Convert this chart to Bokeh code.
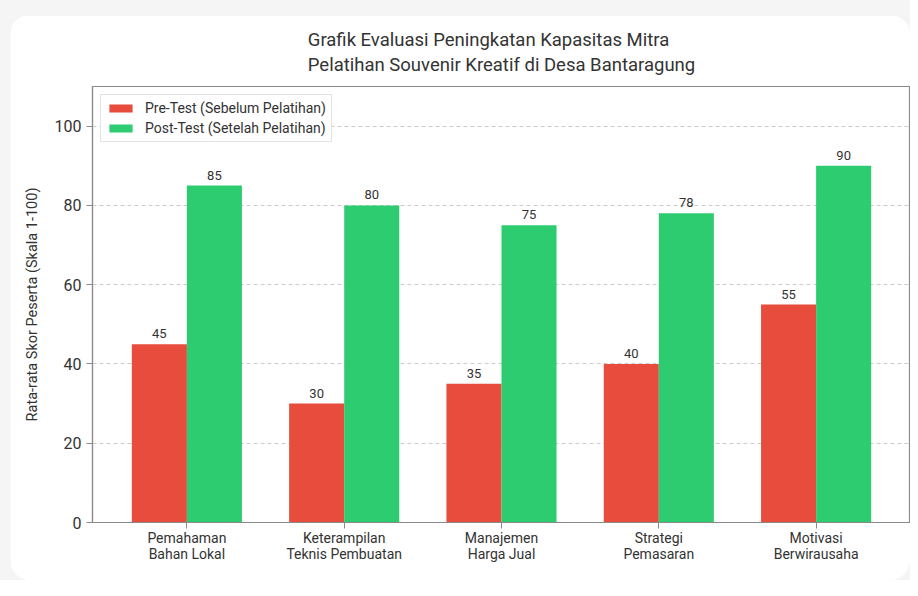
from bokeh.plotting import figure
from bokeh.models import ColumnDataSource, Range1d, FixedTicker, Legend, LegendItem
from bokeh.layouts import column
from bokeh.transform import dodge
from bokeh.core.properties import value
from bokeh.embed import file_html
from bokeh.resources import INLINE

categories = ["Pemahaman\nBahan Lokal", "Keterampilan\nTeknis Pembuatan", "Manajemen\nHarga Jual",
              "Strategi\nPemasaran", "Motivasi\nBerwirausaha"]
pre_test = [45, 30, 35, 40, 55]
post_test = [85, 80, 75, 78, 90]
y_ticks = [0, 20, 40, 60, 80, 100]
title_1 = "Grafik Evaluasi Peningkatan Kapasitas Mitra"
title_2 = "Pelatihan Souvenir Kreatif di Desa Bantaragung"
ylabel = "Rata-rata Skor Peserta (Skala 1-100)"
legend_pre = "Pre-Test (Sebelum Pelatihan)"
legend_post = "Post-Test (Setelah Pelatihan)"

FONT = "Roboto"
RED = "#e74c3c"
GREEN = "#2ecc71"
TXT = "#333333"

idx = list(range(len(categories)))
src = ColumnDataSource(dict(
    x=idx, pre=pre_test, post=post_test,
    pre_lbl=[str(v) for v in pre_test], post_lbl=[str(v) for v in post_test],
))

p = figure(width=900, height=565, output_backend="svg", toolbar_location=None,
           x_range=Range1d(-0.6, 4.6), y_range=Range1d(0, 110),
           min_border_left=82, min_border_right=0, min_border_top=71, min_border_bottom=58)
p.margin = (15, 0, 0, 10)
p.styles = {"border-radius": "20px", "overflow": "hidden"}
p.border_fill_color = "white"
p.background_fill_color = "white"
p.outline_line_color = "#8a8a8a"
p.outline_line_width = 1.2

p.title.text = title_1 + "\n" + title_2
p.title.align = "center"
p.title.text_font = FONT
p.title.text_font_size = "18.5px"
p.title.text_font_style = "normal"
p.title.text_color = TXT
p.title.text_line_height = 1.12
p.title.standoff = 21

w = 0.35
r_pre = p.vbar(x=dodge("x", -w / 2), top="pre", width=w, source=src, fill_color=RED, line_color=None)
r_post = p.vbar(x=dodge("x", w / 2), top="post", width=w, source=src, fill_color=GREEN, line_color=None)

p.text(x=dodge("x", -w / 2), y="pre", text="pre_lbl", source=src, text_align="center",
       text_baseline="bottom", y_offset=-6, text_font=value(FONT), text_font_size="13px", text_color=TXT)
p.text(x=dodge("x", w / 2), y="post", text="post_lbl", source=src, text_align="center",
       text_baseline="bottom", y_offset=-6, text_font=value(FONT), text_font_size="13px", text_color=TXT)

# axes
p.xaxis.ticker = FixedTicker(ticks=idx)
p.xaxis.major_label_overrides = {i: c for i, c in zip(idx, categories)}
p.yaxis.ticker = FixedTicker(ticks=y_ticks)
p.yaxis.axis_label = ylabel
for ax in (p.xaxis[0], p.yaxis[0]):
    ax.axis_line_color = "#8a8a8a"
    ax.axis_line_width = 1.2
    ax.major_tick_line_color = "#8a8a8a"
    ax.major_tick_out = 6
    ax.major_tick_in = 0
    ax.minor_tick_line_color = None
    ax.major_label_text_font = FONT
    ax.major_label_text_color = TXT
    ax.major_label_standoff = 5
p.xaxis.major_label_text_font_size = "14px"
p.xaxis.major_label_text_line_height = 1.05
p.xaxis.major_label_standoff = 1
p.yaxis.major_label_text_font_size = "16px"
p.yaxis.axis_label_text_font = FONT
p.yaxis.axis_label_text_font_size = "14.5px"
p.yaxis.axis_label_text_font_style = "normal"
p.yaxis.axis_label_text_color = TXT
p.yaxis.axis_label_standoff = 11

p.xgrid.visible = False
p.ygrid.grid_line_color = "#cccccc"
p.ygrid.grid_line_dash = "4 3"
p.ygrid.grid_line_width = 1

legend = Legend(items=[LegendItem(label=legend_pre, renderers=[r_pre]),
                       LegendItem(label=legend_post, renderers=[r_post])],
                location="top_left")
legend.margin = 8
legend.padding = 5
legend.spacing = 4
legend.label_height = 16
legend.glyph_height = 10
legend.glyph_width = 29
legend.label_standoff = 10
legend.label_text_font = FONT
legend.label_text_font_size = "14px"
legend.label_text_color = TXT
legend.border_line_color = "#c8c8c8"
legend.border_line_width = 1
legend.background_fill_alpha = 1
p.add_layout(legend)

col = column(p, width=910, height=580, styles={"background-color": "#f5f5f5"})

open("out.html", "w").write(file_html(col, INLINE))
